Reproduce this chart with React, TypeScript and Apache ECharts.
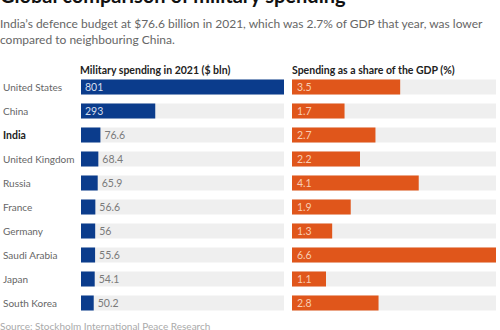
import React, { useEffect, useRef } from "react";
import * as echarts from "echarts";

const countries = [
  "United States",
  "China",
  "India",
  "United Kingdom",
  "Russia",
  "France",
  "Germany",
  "Saudi Arabia",
  "Japan",
  "South Korea",
];
const spending = [801, 293, 76.6, 68.4, 65.9, 56.6, 56, 55.6, 54.1, 50.2];
const gdpShare = [3.5, 1.7, 2.7, 2.2, 4.1, 1.9, 1.3, 6.6, 1.1, 2.8];

const title = "Global comparison of military spending";
const subtitle1 =
  "India\u2019s defence budget at $76.6 billion in 2021, which was 2.7% of GDP that year, was lower";
const subtitle2 = "compared to neighbouring China.";
const header1 = "Military spending in 2021 ($ bln)";
const header2 = "Spending as a share of the GDP (%)";
const source = "Source: Stockholm International Peace Research";

const FONT = "Lato";
const NAVY = "#0b3c8c";
const ORANGE = "#e0561b";
const TRACK = "#efefef";

export default function App() {
  const ref = useRef<HTMLDivElement>(null);
  useEffect(() => {
    if (!ref.current) return;
    const chart = echarts.init(ref.current, undefined, { renderer: "svg" });
    const leftData = spending.map((v) => {
      const inside = v > 200;
      return {
        value: v,
        label: inside
          ? { show: true, position: "insideLeft", distance: 4, color: "#d5deee" }
          : { show: true, position: "right", distance: 4, color: "#7a7a7a" },
      };
    });
    const rightData = gdpShare.map((v) => ({
      value: v,
      label: { show: true, position: "insideLeft", distance: 5, color: "#f8cdb2" },
    }));
    chart.setOption({
      animation: false,
      backgroundColor: "#ffffff",
      textStyle: { fontFamily: FONT },
      graphic: [
        {
          type: "text",
          left: 0,
          top: -15,
          style: { text: title, font: `bold 20px ${FONT}`, fill: "#111" },
        },
        {
          type: "text",
          left: 0,
          top: 17,
          style: { text: subtitle1, font: `12px ${FONT}`, fill: "#666" },
        },
        {
          type: "text",
          left: 0,
          top: 33,
          style: { text: subtitle2, font: `12px ${FONT}`, fill: "#666" },
        },
        {
          type: "text",
          left: 80,
          top: 64,
          style: { text: header1, font: `bold 10.5px ${FONT}`, fill: "#222" },
        },
        {
          type: "text",
          left: 292,
          top: 64,
          style: { text: header2, font: `bold 10.5px ${FONT}`, fill: "#222" },
        },
        {
          type: "text",
          left: 0,
          top: 321,
          style: { text: source, font: `10px ${FONT}`, fill: "#aaa" },
        },
      ],
      grid: [
        { left: 80, width: 204, top: 75, height: 240 },
        { left: 292, width: 204, top: 75, height: 240 },
      ],
      xAxis: [
        { gridIndex: 0, type: "value", min: 0, max: 801, show: false },
        { gridIndex: 1, type: "value", min: 0, max: 6.6, show: false },
      ],
      yAxis: [
        {
          gridIndex: 0,
          type: "category",
          data: countries,
          inverse: true,
          axisLine: { show: false },
          axisTick: { show: false },
          axisLabel: {
            align: "left",
            margin: 78,
            fontSize: 10,
            color: "#666",
            fontFamily: FONT,
            formatter: (v: string) => (v === "India" ? `{b|${v}}` : `{a|${v}}`),
            rich: {
              a: { fontSize: 10, color: "#666", fontFamily: FONT },
              b: { fontSize: 10.5, color: "#222", fontWeight: "bold", fontFamily: FONT },
            },
          },
        },
        {
          gridIndex: 1,
          type: "category",
          data: countries,
          inverse: true,
          show: false,
        },
      ],
      series: [
        {
          type: "bar",
          xAxisIndex: 0,
          yAxisIndex: 0,
          data: leftData,
          barWidth: 15,
          itemStyle: { color: NAVY },
          showBackground: true,
          backgroundStyle: { color: TRACK },
          label: { fontSize: 10.5, fontFamily: FONT },
        },
        {
          type: "bar",
          xAxisIndex: 1,
          yAxisIndex: 1,
          data: rightData,
          barWidth: 15,
          itemStyle: { color: ORANGE },
          showBackground: true,
          backgroundStyle: { color: TRACK },
          label: { fontSize: 10.5, fontFamily: FONT },
        },
      ],
    });
    return () => chart.dispose();
  }, []);
  return (
    <div
      ref={ref}
      style={{ position: "fixed", left: 0, top: 0, width: 500, height: 330, background: "#fff" }}
    />
  );
}
